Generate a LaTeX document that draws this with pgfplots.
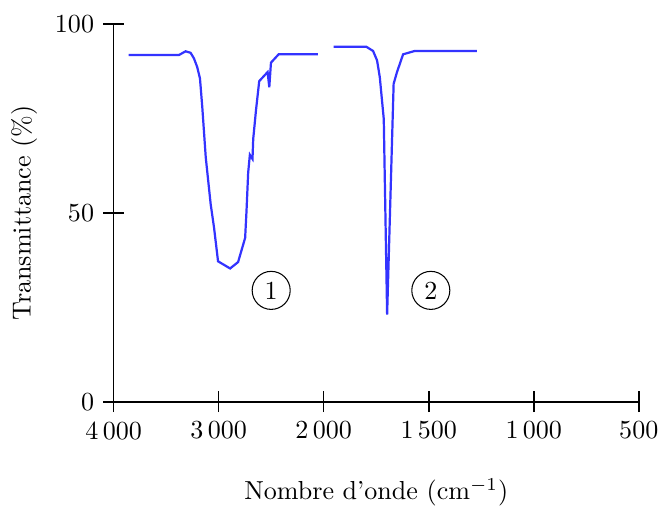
\documentclass[border=0pt]{standalone}
\usepackage{pgfplots}
\pgfplotsset{compat=1.18}
\definecolor{spec}{RGB}{51,51,255}
\begin{document}
\begin{tikzpicture}
\begin{axis}[
    scale only axis,
    width=201.6pt, height=145pt,
    xmin=0, xmax=5, ymin=0, ymax=100,
    axis lines*=left,
    axis line style={black, line width=0.6pt},
    tick align=center,
    major tick length=8pt,
    tick style={black, line width=0.6pt},
    xtick={0,1,2,3,4,5},
    xticklabels={4\,000,3\,000,2\,000,1\,500,1\,000,500},
    ytick={0,50,100},
    xlabel={Nombre d'onde (cm$^{-1}$)},
    ylabel={Transmittance (\%)},
    xlabel style={yshift=-8pt},
    clip=false,
]
% wavenumber -> piecewise position on the axis
\addplot[spec, line width=0.85pt] table[
    x expr={\thisrowno{0}>=2000 ? (4000-\thisrowno{0})/1000 : 2+(2000-\thisrowno{0})/500},
    y index=1] {
3857 91.8
3379 91.8
3315 92.8
3267 92.4
3235 90.9
3204 88.6
3178 85.6
3156 78.0
3123 64.7
3076 52.3
3044 46.1
3006 37.2
2891 35.3
2815 37.0
2748 43.4
2735 50.5
2719 60.7
2703 65.4
2678 64.3
2671 69.6
2645 77.1
2614 84.9
2534 87.3
2518 83.3
2502 89.8
2429 92.0
2056 92.0
};
\addplot[spec, line width=0.85pt] table[
    x expr={\thisrowno{0}>=2000 ? (4000-\thisrowno{0})/1000 : 2+(2000-\thisrowno{0})/500},
    y index=1] {
1953 94.0
1797 94.0
1765 92.9
1746 90.4
1733 86.0
1714 74.9
1698 23.1
1667 84.2
1651 87.3
1622 92.0
1566 92.9
1271 92.9
};
\node[draw, circle, inner sep=0pt, minimum size=14.6pt] at (axis cs:1.50,29.5) {1};
\node[draw, circle, inner sep=0pt, minimum size=14.6pt] at (axis cs:3.02,29.5) {2};
\end{axis}
\coordinate (nw) at ([xshift=-0.9pt,yshift=2.7pt]current bounding box.north west);
\coordinate (se) at ([xshift=-2.3pt]current bounding box.south east);
\pgfresetboundingbox
\useasboundingbox (nw) rectangle (se);
\end{tikzpicture}
\end{document}
